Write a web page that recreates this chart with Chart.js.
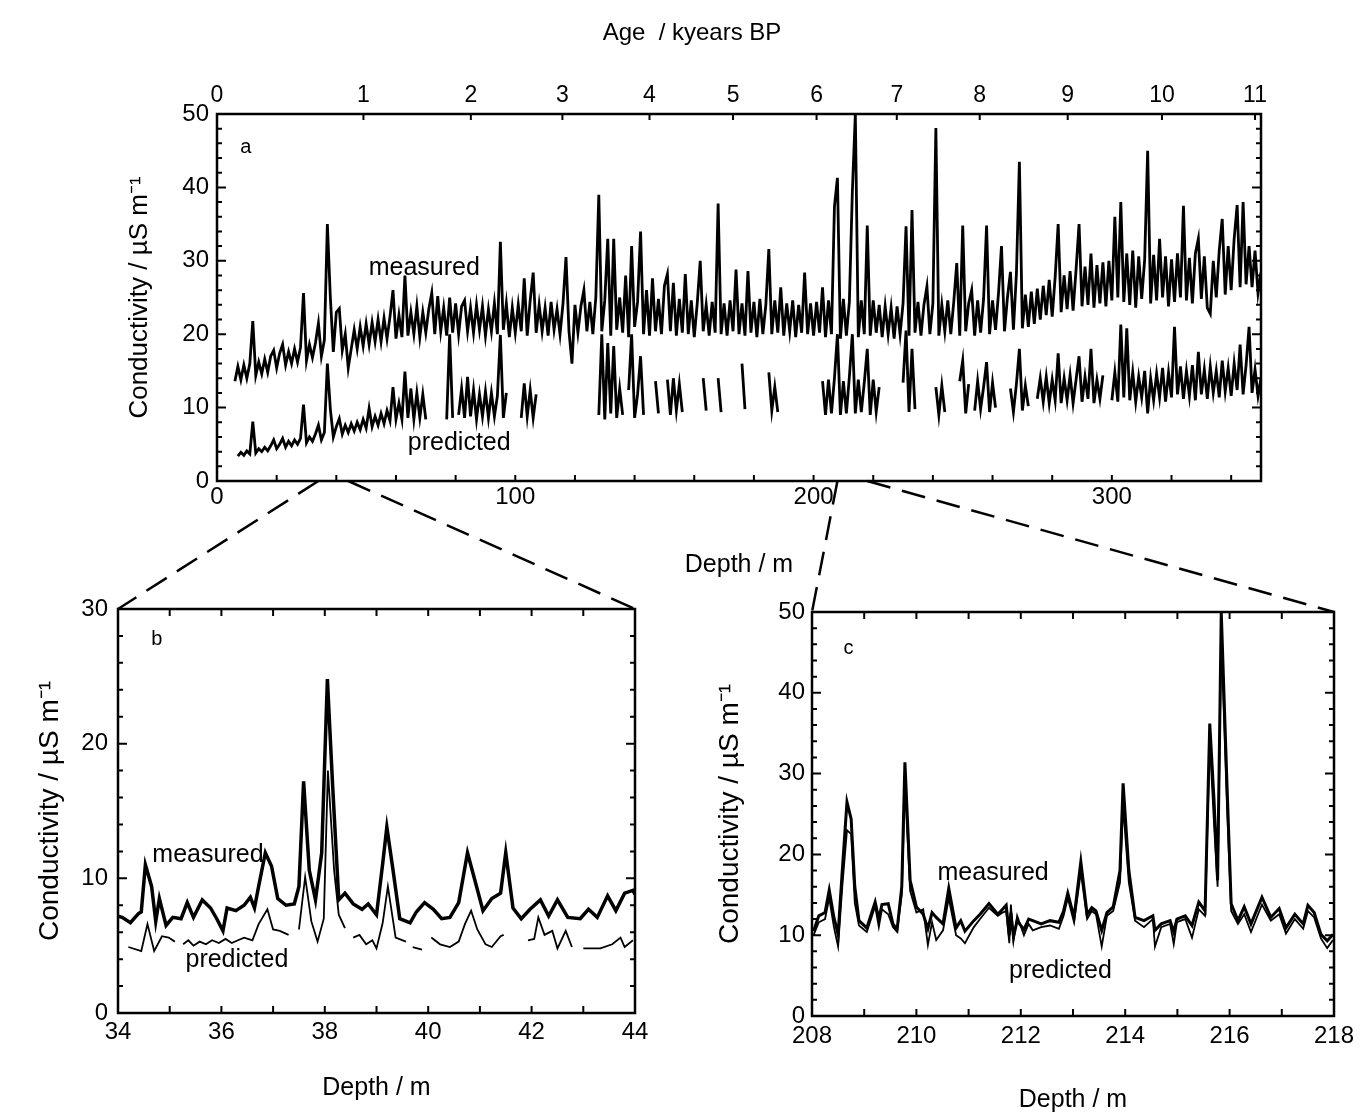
<!DOCTYPE html>
<html>
<head>
<meta charset="utf-8">
<script src="https://cdn.jsdelivr.net/npm/chart.js@4.4.0/dist/chart.umd.min.js"></script>
<style>
  html, body { margin: 0; padding: 0; background: #fff; }
  #page { position: relative; width: 1365px; height: 1117px; }
  #page canvas { position: absolute; left: 0; top: 0; }
</style>
</head>
<body>
<div id="page">
  <canvas id="chartA" width="1365" height="1117"></canvas>
  <canvas id="chartB" width="1365" height="1117"></canvas>
  <canvas id="chartC" width="1365" height="1117"></canvas>
</div>
<script>
const FONT = '"Liberation Sans", Arial, Helvetica, sans-serif';

// ---- panel a: whole record, one sample per metre from 6 m ----
const aStartDepth = 6;
const aStep = 1;
const aMeasured = [
  13.6, 15.6, 13.8, 15.8, 14.0, 16.0, 21.8, 14.4, 16.2, 14.6,   // 6
  16.6, 14.8, 17.0, 17.8, 15.4, 17.4, 18.6, 15.8, 17.6, 16.0,   // 16
  18.0, 16.2, 18.2, 25.6, 16.4, 18.6, 16.8, 18.8, 21.5, 17.0,   // 26
  19.2, 35.0, 25.0, 17.6, 23.0, 23.5, 17.8, 20.0, 15.4, 18.0,   // 36
  20.6, 18.0, 21.0, 18.4, 21.4, 18.6, 21.6, 19.0, 22.0, 19.0,   // 46
  22.2, 19.4, 22.4, 26.0, 19.4, 22.6, 19.6, 28.0, 19.8, 23.0,   // 56
  20.0, 23.8, 19.6, 23.0, 20.2, 23.4, 25.6, 20.0, 25.2, 20.4,   // 66
  23.6, 19.8, 25.0, 20.2, 24.2, 20.0, 23.8, 24.6, 20.4, 23.6,   // 76
  20.2, 24.0, 20.6, 23.8, 19.8, 23.4, 20.4, 24.2, 20.0, 32.6,   // 86
  20.6, 24.2, 19.6, 23.6, 20.2, 24.0, 20.4, 27.6, 19.8, 24.6,   // 96
  28.4, 20.2, 24.0, 20.4, 23.6, 19.8, 24.4, 20.6, 23.4, 20.0,   // 106
  24.2, 30.5, 20.4, 16.0, 24.0, 20.2, 23.8, 26.0, 20.4, 24.4,   // 116
  20.0, 25.0, 39.0, 20.4, 24.6, 33.0, 19.8, 33.0, 20.6, 25.0,   // 126
  20.2, 28.0, 19.6, 32.0, 21.0, 24.4, 34.0, 20.0, 26.0, 19.8,   // 136
  27.6, 20.4, 24.8, 20.0, 26.6, 28.2, 20.4, 27.0, 19.8, 24.8,   // 146
  20.2, 28.2, 20.0, 24.6, 19.6, 24.2, 30.0, 20.4, 24.0, 19.8,   // 156
  24.4, 20.2, 37.8, 20.0, 24.2, 19.8, 24.6, 20.4, 28.8, 20.0,   // 166
  24.2, 19.8, 28.6, 20.2, 24.4, 19.6, 24.8, 20.0, 24.0, 31.6,   // 176
  20.0, 24.6, 20.2, 26.4, 19.8, 24.2, 20.4, 24.6, 19.6, 24.0,   // 186
  20.2, 28.4, 20.0, 24.2, 19.8, 24.4, 20.2, 26.4, 19.6, 24.6,   // 196
  20.0, 37.4, 41.3, 19.4, 24.8, 19.8, 24.4, 39.4, 50.0, 19.6,   // 206
  24.6, 20.0, 34.8, 19.8, 24.6, 20.2, 24.0, 19.6, 23.8, 20.0,   // 216
  23.6, 19.4, 23.8, 20.0, 24.2, 34.7, 19.8, 36.9, 20.2, 24.4,   // 226
  19.8, 24.0, 26.5, 20.0, 24.2, 48.1, 19.8, 24.0, 20.4, 24.6,   // 236
  20.0, 24.4, 29.7, 19.8, 34.8, 20.4, 24.2, 26.0, 19.8, 24.6,   // 246
  20.2, 24.8, 34.8, 20.0, 24.6, 20.6, 25.6, 32.0, 20.4, 25.0,   // 256
  28.5, 20.6, 28.2, 43.5, 20.8, 25.4, 21.0, 25.8, 21.4, 26.2,   // 266
  22.0, 26.6, 22.6, 27.4, 22.4, 27.8, 35.0, 23.0, 28.0, 23.4,   // 276
  28.6, 23.2, 28.8, 35.0, 23.8, 29.2, 24.0, 31.0, 23.6, 29.4,   // 286
  24.2, 29.8, 23.8, 30.0, 24.6, 36.0, 25.0, 38.0, 24.4, 31.0,   // 296
  24.0, 31.4, 23.6, 30.6, 24.8, 30.2, 45.0, 24.2, 30.8, 24.6,   // 306
  33.0, 25.0, 30.6, 23.8, 30.2, 24.4, 31.0, 25.0, 37.5, 24.6,   // 316
  30.4, 24.2, 31.0, 33.0, 24.8, 30.6, 23.6, 22.8, 30.0, 25.0,   // 326
  31.4, 35.7, 25.4, 32.0, 26.0, 33.0, 37.6, 26.4, 38.0, 26.8,   // 336
  32.0, 26.4, 31.4, 25.6, 28.4                                  // 346
];
const aPredicted = [
  null, 3.4, 3.9, 3.5, 4.1, 3.7, 8.1, 3.8, 4.4, 4.0,            // 6
  4.6, 4.1, 4.8, 5.6, 4.4, 5.0, 5.8, 4.6, 5.4, 4.8,             // 16
  5.6, 5.0, 5.8, 10.4, 5.2, 6.0, 5.4, 6.4, 7.6, 5.6,            // 26
  6.6, 16.0, 9.8, 6.0, 7.4, 8.5, 6.4, 7.6, 6.6, 7.8,            // 36
  6.8, 8.0, 7.0, 8.4, 7.2, 9.9, 7.4, 8.8, 7.6, 9.2,             // 46
  7.8, 9.6, 8.2, 12.8, 8.4, 10.6, 8.4, 14.9, 8.6, 12.6,         // 56
  8.4, 12.0, 8.6, 11.8, 8.4, null, null, null, null, null,      // 66
  null, 8.4, 20.0, 8.6, null, 9.0, 12.6, 8.6, 14.2, 8.8,        // 76
  12.4, 8.4, 11.8, 8.8, 12.2, 8.6, 12.0, 8.8, 11.6, 19.9,       // 86
  8.6, 12.0, null, null, null, null, 8.6, 13.3, 8.8, 12.4,      // 96
  8.6, 11.8, null, null, null, null, null, null, null, null,    // 106
  null, null, null, null, null, null, null, null, null, null,   // 116
  null, null, 9.0, 20.0, 8.4, 18.8, 9.2, 18.4, 8.6, 12.6,       // 126
  9.0, null, 12.4, 20.0, 8.6, 11.8, 17.0, 9.0, null, null,      // 136
  null, 13.6, 9.2, null, null, 13.8, 9.0, 14.0, 9.6, 13.2,      // 146
  9.4, null, null, null, null, null, null, 14.0, 9.6, null,     // 156
  null, null, 14.0, 9.4, null, null, null, null, null, null,    // 166
  16.0, 9.8, null, null, null, null, null, null, null, 14.8,    // 176
  9.6, 12.8, 9.4, null, null, null, null, null, null, null,     // 186
  null, null, null, null, null, null, null, 13.6, 9.0, 13.8,    // 196
  9.2, 14.0, 20.0, 9.0, 13.6, 9.2, 14.2, 20.0, 9.2, 13.8,       // 206
  9.4, 13.4, 18.0, 9.0, 13.8, 9.4, 12.8, null, null, null,      // 216
  null, null, null, null, 13.4, 20.5, 9.4, 18.0, 9.8, null,     // 226
  null, null, null, null, null, 12.8, 9.0, 13.0, 9.4, null,     // 236
  null, null, null, 13.6, 16.4, 9.2, 13.2, null, 9.6, 13.6,     // 246
  9.8, 12.8, 16.2, 9.4, 13.4, 10.0, null, null, null, null,     // 256
  12.6, 9.4, 13.2, 18.0, 9.6, 13.0, 10.2, null, null, 11.2,     // 266
  14.0, 10.8, 14.2, 10.6, 13.8, 11.0, 17.4, 10.6, 14.0, 11.0,   // 276
  14.4, 10.6, 13.8, 17.0, 10.8, 14.2, 11.2, 18.0, 10.6, 13.8,   // 286
  11.2, 14.4, null, null, 11.0, 14.8, 10.8, 21.3, 11.4, 20.8,   // 296
  11.0, 14.8, 10.8, 14.2, 11.4, 15.0, 9.2, 14.0, 11.0, 14.6,    // 306
  11.4, 15.4, 10.8, 14.8, 11.4, 21.0, 11.8, 15.6, 11.2, 15.0,   // 316
  11.6, 15.8, 11.0, 17.6, 11.8, 15.2, 11.2, 15.6, 12.0, 15.0,   // 326
  11.4, 16.4, 12.2, 15.4, 11.6, 16.0, 12.4, 18.6, 11.8, 15.8,   // 336
  21.0, 12.0, 15.2, 11.6, 14.0                                  // 346
];
const aDepthTicks = [0, 100, 200, 300];
const aCondTicks = [0, 10, 20, 30, 40, 50];
const ageLabels = ['0', '1', '2', '3', '4', '5', '6', '7', '8', '9', '10', '11'];
const ageDepths = [0, 49.1, 85.1, 115.8, 145, 173, 201, 227.9, 255.7, 285.2, 316.8, 348];

// ---- panel b: 34-44 m ----
const bDepthM = [34.0, 34.08, 34.24, 34.4, 34.45, 34.53, 34.65, 34.73, 34.8, 34.93,
  35.06, 35.22, 35.34, 35.46, 35.63, 35.79, 35.91, 36.03, 36.11, 36.28,
  36.44, 36.56, 36.64, 36.72, 36.85, 36.97, 37.09, 37.25, 37.41, 37.5,
  37.59, 37.7, 37.82, 37.94, 38.05, 38.15, 38.27, 38.39, 38.55, 38.72,
  38.84, 39.0, 39.12, 39.2, 39.32, 39.45, 39.65, 39.77, 39.93, 40.1,
  40.26, 40.42, 40.59, 40.76, 40.9, 41.06, 41.23, 41.4, 41.5, 41.64,
  41.8, 41.97, 42.17, 42.33, 42.5, 42.7, 42.94, 43.1, 43.27, 43.47,
  43.63, 43.8, 43.96, 44.0];
const bMeasured = [7.2, 7.1, 6.7, 7.4, 7.5, 11.0, 9.4, 6.8, 8.5, 6.5,
  7.1, 7.0, 8.2, 7.1, 8.4, 7.8, 7.0, 6.1, 7.8, 7.6,
  8.0, 8.6, 7.8, 9.4, 11.9, 10.9, 8.5, 8.0, 8.1, 9.4,
  17.2, 10.6, 8.4, 11.9, 24.8, 17.0, 8.4, 8.9, 8.1, 7.7,
  8.1, 7.3, 11.1, 13.8, 10.6, 7.0, 6.7, 7.5, 8.2, 7.7,
  7.0, 7.1, 8.2, 11.9, 9.9, 7.6, 8.5, 8.9, 11.9, 7.8,
  7.0, 7.7, 8.4, 7.2, 8.4, 7.1, 7.0, 7.7, 7.1, 8.7,
  7.6, 8.9, 9.1, 8.8];
const bDepthP = [34.2, 34.45, 34.57, 34.7, 34.85, 34.98, 35.1, 35.18, 35.26, 35.36,
  35.46, 35.58, 35.7, 35.82, 35.95, 36.08, 36.2, 36.32, 36.44, 36.6,
  36.72, 36.89, 37.0, 37.13, 37.3, 37.4, 37.5, 37.62, 37.74, 37.86,
  37.98, 38.06, 38.18, 38.27, 38.39, 38.47, 38.55, 38.67, 38.8, 38.92,
  39.0, 39.12, 39.22, 39.37, 39.57, 39.63, 39.7, 39.88, 39.96, 40.06,
  40.23, 40.42, 40.59, 40.71, 40.83, 40.95, 41.11, 41.23, 41.4, 41.46,
  41.7, 41.93, 42.05, 42.13, 42.25, 42.4, 42.5, 42.66, 42.78, 42.88,
  43.0, 43.33, 43.56, 43.72, 43.8, 43.96];
const bPredicted = [4.9, 4.6, 6.6, 4.6, 5.7, 5.6, 5.3, null, 5.1, 5.4,
  5.0, 5.3, 5.1, 5.4, 5.2, 5.5, 5.2, 5.4, 5.6, 5.4,
  6.6, 7.7, 6.2, 6.1, 5.8, null, 6.2, 10.1, 6.8, 5.3,
  7.0, 18.0, 10.6, 7.3, 6.3, null, 5.6, 5.8, 5.1, 5.4,
  4.8, 6.7, 9.4, 5.6, 5.3, null, 4.9, 4.7, null, 5.6,
  5.1, 4.9, 5.3, 6.6, 7.6, 6.2, 5.1, 4.9, 5.7, 5.8,
  null, 5.4, 5.5, 7.1, 5.8, 6.1, 4.8, 6.1, 4.9, null,
  4.8, 4.8, 5.1, 5.6, 4.9, 5.4];
const bDepthTicks = [34, 36, 38, 40, 42, 44];
const bCondTicks = [0, 10, 20, 30];

// ---- panel c: 208-218 m ----
const cDepth = [208.03, 208.13, 208.25, 208.33, 208.42, 208.5, 208.58, 208.67, 208.75, 208.82,
  208.9, 209.05, 209.21, 209.28, 209.34, 209.46, 209.55, 209.63, 209.72, 209.78,
  209.88, 210.0, 210.13, 210.22, 210.3, 210.38, 210.51, 210.62, 210.76, 210.85,
  210.93, 211.1, 211.22, 211.39, 211.56, 211.65, 211.72, 211.78, 211.81, 211.86,
  211.93, 212.06, 212.15, 212.23, 212.39, 212.56, 212.73, 212.82, 212.9, 213.02,
  213.15, 213.27, 213.36, 213.44, 213.55, 213.65, 213.77, 213.9, 213.96, 214.07,
  214.19, 214.36, 214.53, 214.57, 214.69, 214.86, 214.93, 214.99, 215.15, 215.28,
  215.41, 215.53, 215.62, 215.7, 215.77, 215.84, 215.95, 216.03, 216.16, 216.28,
  216.41, 216.62, 216.79, 216.95, 217.08, 217.25, 217.41, 217.5, 217.62, 217.75,
  217.87, 217.98];
const cMeasured = [10.5, 12.4, 12.8, 15.6, 12.2, 10.1, 18.0, 26.5, 24.4, 16.0,
  11.8, 10.9, 14.1, 12.0, 13.8, 13.9, 11.4, 10.7, 16.0, 31.4,
  16.8, 13.5, 12.6, 10.8, 12.8, 12.2, 11.4, 15.8, 10.9, 11.8,
  10.5, 11.8, 12.6, 13.9, 12.6, 13.2, 13.7, 10.0, 12.8, 9.8,
  11.8, 10.7, 12.0, 11.8, 11.4, 11.8, 11.6, 13.0, 15.2, 12.2,
  19.1, 12.6, 13.4, 13.0, 10.6, 12.8, 13.5, 18.0, 28.8, 18.0,
  12.2, 11.8, 12.4, 10.6, 11.4, 11.8, 10.4, 12.0, 12.4, 11.2,
  14.1, 13.0, 36.2, 26.9, 16.8, 50.0, 28.6, 13.9, 11.8, 13.5,
  11.4, 14.7, 12.2, 13.3, 10.9, 12.6, 11.4, 13.7, 12.8, 10.1,
  9.3, 10.1];
const cPredicted = [10.0, 11.6, 12.0, 14.6, 11.0, 8.6, 16.0, 23.0, 22.5, 14.0,
  11.2, 10.4, 13.6, 11.0, 13.2, 12.6, 11.0, 10.4, 15.0, 28.5,
  15.5, 12.8, 13.2, 8.8, 11.6, 9.4, 10.6, 14.6, 10.0, 9.6,
  9.0, 11.0, 12.0, 13.4, 12.4, 12.8, 13.0, 9.0, 13.8, 9.3,
  12.4, 10.0, 11.4, 10.6, 11.0, 11.2, 10.8, 12.4, 14.6, 11.6,
  17.8, 12.0, 13.0, 12.6, 8.6, 12.4, 13.0, 16.5, 26.0, 16.5,
  11.8, 11.0, 12.0, 8.6, 11.0, 11.4, 8.9, 11.6, 12.0, 9.7,
  13.2, 12.4, 34.0, 24.0, 16.0, 47.0, 26.0, 13.0, 11.4, 12.6,
  10.4, 13.8, 11.8, 12.6, 10.2, 12.0, 10.8, 13.0, 12.2, 9.6,
  8.4, 9.4];
const cDepthTicks = [208, 210, 212, 214, 216, 218];
const cCondTicks = [0, 10, 20, 30, 40, 50];

const aDepth = aMeasured.map((_, i) => aStartDepth + i * aStep);

Chart.defaults.color = '#000';
Chart.defaults.font.family = FONT;

function toPoints(xs, ys) {
  return ys.map((v, i) => ({ x: xs[i], y: v }));
}

function trace(label, points, width) {
  return {
    label: label,
    data: points,
    borderColor: '#000',
    borderWidth: width,
    pointRadius: 0,
    fill: false,
    tension: 0
  };
}

// box round the plot with small inward ticks on all four sides
const framePlugin = {
  id: 'frame',
  afterDatasetsDraw(chart, args, o) {
    const { ctx, chartArea: a } = chart;
    const x = chart.scales.x, y = chart.scales.y;
    const steps = (min, max, step) => {
      const out = [];
      const n = Math.floor((max - min) / step + 1e-9);
      for (let i = 0; i <= n; i++) out.push(min + i * step);
      return out;
    };
    ctx.save();
    ctx.strokeStyle = '#000';
    ctx.lineWidth = o.tickWidth;
    ctx.beginPath();
    steps(y.min, y.max, o.yMinor).forEach(v => {
      const py = y.getPixelForValue(v);
      const r = v / o.yMajor;
      const len = Math.abs(r - Math.round(r)) < 1e-6 ? o.majorLen : o.minorLen;
      ctx.moveTo(a.left, py); ctx.lineTo(a.left + len, py);
      ctx.moveTo(a.right, py); ctx.lineTo(a.right - len, py);
    });
    steps(x.min, x.max, o.xMinor).forEach(v => {
      const px = x.getPixelForValue(v);
      ctx.moveTo(px, a.bottom); ctx.lineTo(px, a.bottom - o.xLen);
      if (!o.topTicks) { ctx.moveTo(px, a.top); ctx.lineTo(px, a.top + o.xLen); }
    });
    (o.topTicks || []).forEach(v => {
      const px = x.getPixelForValue(v);
      ctx.moveTo(px, a.top); ctx.lineTo(px, a.top + o.xLen);
    });
    ctx.stroke();
    ctx.lineWidth = o.frameWidth;
    ctx.strokeRect(a.left, a.top, a.right - a.left, a.bottom - a.top);
    ctx.restore();
  }
};

// text placed in data coordinates (panel letter, curve names) or page text
const notesPlugin = {
  id: 'notes',
  afterDraw(chart, args, o) {
    const { ctx } = chart;
    const x = chart.scales.x, y = chart.scales.y;
    ctx.save();
    ctx.fillStyle = '#000';
    ctx.textAlign = 'center';
    ctx.textBaseline = 'middle';
    (o.items || []).forEach(n => {
      ctx.font = n.size + 'px ' + FONT;
      ctx.fillText(n.text, x.getPixelForValue(n.x), y.getPixelForValue(n.y));
    });
    (o.page || []).forEach(n => {
      ctx.font = n.size + 'px ' + FONT;
      ctx.fillText(n.text, n.px, n.py);
    });
    ctx.restore();
  }
};

function panelOptions(p) {
  return {
    responsive: false,
    animation: false,
    events: [],
    layout: { padding: p.padding },
    plugins: {
      legend: { display: false },
      tooltip: { enabled: false },
      frame: p.frame,
      notes: { items: p.notes, page: p.page || [] }
    },
    scales: {
      x: {
        type: 'linear', position: 'bottom', bounds: 'data',
        min: p.xTicks[0], max: p.xMax,
        afterBuildTicks: s => { s.ticks = p.xTicks.map(v => ({ value: v })); },
        afterFit: s => { s.height = p.xHeight; },
        grid: { display: false, drawTicks: false },
        border: { display: false },
        ticks: { autoSkip: false, maxRotation: 0, padding: p.xPad, color: '#000', font: { size: p.tickSize } },
        title: { display: true, text: 'Depth / m', color: '#000', font: { size: 25 }, padding: 0 }
      },
      y: {
        type: 'linear', position: 'left', bounds: 'data',
        min: 0, max: p.yTicks[p.yTicks.length - 1],
        afterBuildTicks: s => { s.ticks = p.yTicks.map(v => ({ value: v })); },
        afterFit: s => { s.width = p.yWidth; },
        grid: { display: false, drawTicks: false },
        border: { display: false },
        ticks: { autoSkip: false, padding: p.yPad, color: '#000', font: { size: p.tickSize } },
        title: { display: true, text: 'Conductivity / µS m⁻¹', color: '#000', font: { size: p.yTitleSize }, padding: 0 }
      }
    }
  };
}

// ---- panel a ----
const optsA = panelOptions({
  padding: { left: 124, top: 20, right: 104, bottom: 537 },
  xTicks: aDepthTicks, xMax: 350, xHeight: 99, xPad: 2,
  yTicks: aCondTicks, yWidth: 93, yPad: 8,
  tickSize: 24, yTitleSize: 26,
  frame: { xMinor: 20, xLen: 6, yMinor: 2, yMajor: 10, minorLen: 5, majorLen: 9,
           tickWidth: 2, frameWidth: 2.5, topTicks: ageDepths },
  notes: [
    { text: 'a', x: 9.7, y: 45.5, size: 20 },
    { text: 'measured', x: 69.5, y: 29, size: 25 },
    { text: 'predicted', x: 81.2, y: 5.2, size: 25 }
  ],
  page: [{ text: 'Age  / kyears BP', px: 692, py: 33, size: 24 }]
});
optsA.scales.x2 = {
  type: 'linear', position: 'top', bounds: 'data', min: 0, max: 350,
  afterBuildTicks: s => { s.ticks = ageDepths.map(v => ({ value: v })); },
  afterFit: s => { s.height = 94; },
  grid: { display: false, drawTicks: false },
  border: { display: false },
  ticks: { autoSkip: false, maxRotation: 0, padding: 5, color: '#000', font: { size: 23 },
           callback: (value, index) => ageLabels[index] }
};

const chartA = new Chart('chartA', {
  type: 'line',
  data: {
    datasets: [
      trace('measured', toPoints(aDepth, aMeasured), 2.8),
      trace('predicted', toPoints(aDepth, aPredicted), 2.8)
    ]
  },
  options: optsA,
  plugins: [framePlugin, notesPlugin]
});

// ---- panel b ----
const chartB = new Chart('chartB', {
  type: 'line',
  data: {
    datasets: [
      trace('measured', toPoints(bDepthM, bMeasured), 3.5),
      trace('predicted', toPoints(bDepthP, bPredicted), 1.8)
    ]
  },
  options: panelOptions({
    padding: { left: 33, top: 609, right: 730, bottom: 14 },
    xTicks: bDepthTicks, xMax: 44, xHeight: 90, xPad: 5,
    yTicks: bCondTicks, yWidth: 85, yPad: 10,
    tickSize: 24, yTitleSize: 28,
    frame: { xMinor: 1, xLen: 7, yMinor: 2, yMajor: 10, minorLen: 5, majorLen: 9,
             tickWidth: 2, frameWidth: 2.5 },
    notes: [
      { text: 'b', x: 34.75, y: 27.7, size: 20 },
      { text: 'measured', x: 35.74, y: 11.7, size: 25 },
      { text: 'predicted', x: 36.3, y: 3.9, size: 25 }
    ]
  }),
  plugins: [framePlugin, notesPlugin]
});

// dashed lines from the depth ranges in panel a to the corners of b and c
const zoomLinks = {
  id: 'zoomLinks',
  afterDraw(chart) {
    const { ctx } = chart;
    const ax = chartA.scales.x;
    const y0 = chartA.scales.y.getPixelForValue(0);
    const links = [
      [bDepthTicks[0], chartB.chartArea.left, chartB.chartArea.top],
      [bDepthTicks[bDepthTicks.length - 1], chartB.chartArea.right, chartB.chartArea.top],
      [cDepthTicks[0], chart.chartArea.left, chart.chartArea.top],
      [cDepthTicks[cDepthTicks.length - 1], chart.chartArea.right, chart.chartArea.top]
    ];
    ctx.save();
    ctx.strokeStyle = '#000';
    ctx.lineWidth = 2.5;
    ctx.setLineDash([24, 12]);
    links.forEach(([d, px, py]) => {
      ctx.beginPath();
      ctx.moveTo(ax.getPixelForValue(d), y0);
      ctx.lineTo(px, py);
      ctx.stroke();
    });
    ctx.restore();
  }
};

// ---- panel c ----
const chartC = new Chart('chartC', {
  type: 'line',
  data: {
    datasets: [
      trace('measured', toPoints(cDepth, cMeasured), 3),
      trace('predicted', toPoints(cDepth, cPredicted), 1.8)
    ]
  },
  options: panelOptions({
    padding: { left: 713, top: 612, right: 31, bottom: 2 },
    xTicks: cDepthTicks, xMax: 218, xHeight: 99, xPad: 6,
    yTicks: cCondTicks, yWidth: 99, yPad: 7,
    tickSize: 24, yTitleSize: 28,
    frame: { xMinor: 1, xLen: 7, yMinor: 2, yMajor: 10, minorLen: 5, majorLen: 9,
             tickWidth: 2, frameWidth: 2.5 },
    notes: [
      { text: 'c', x: 208.7, y: 45.5, size: 20 },
      { text: 'measured', x: 211.47, y: 17.7, size: 25 },
      { text: 'predicted', x: 212.76, y: 5.6, size: 25 }
    ]
  }),
  plugins: [framePlugin, notesPlugin, zoomLinks]
});
</script>
</body>
</html>
